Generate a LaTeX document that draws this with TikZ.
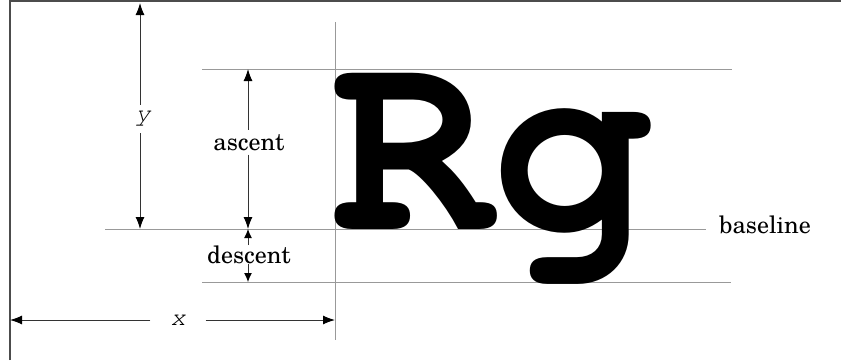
\documentclass[tikz,border=0pt]{standalone}
\usepackage{fontspec}
\usetikzlibrary{arrows.meta}
\newfontfamily\glyphfont{texgyrecursor-bold.otf}
\newfontfamily\axisfont{texgyrecursor-italic.otf}
\newfontfamily\labelfont{texgyreschola-regular.otf}
\begin{document}
\begin{tikzpicture}[x=1pt,y=-1pt,
  guide/.style={draw=black!40, line width=1pt},
  dim/.style={draw=black!80, line width=1pt, -{Latex[length=12pt,width=9pt,black]}},
  lbl/.style={font=\labelfont\fontsize{24}{28}\selectfont, fill=white, inner sep=0pt},
  axlbl/.style={font=\axisfont\fontsize{25}{28}\selectfont, fill=white, inner sep=0pt}]
\useasboundingbox (0,0) rectangle (841,360);
\fill[white] (0,0) rectangle (841,360);
% frame
\coordinate (fbl) at (10,360);
\coordinate (ftl) at (10,1);
\coordinate (ftr) at (841,1);
\draw[black!70, line width=2pt] (fbl) -- (ftl) -- (ftr);
% guide lines
\coordinate (vt) at (335,22);
\coordinate (vb) at (335,340);
\coordinate (tl) at (202,69);
\coordinate (tr) at (732,69);
\coordinate (bl) at (105,229);
\coordinate (br) at (706,229);
\coordinate (dl) at (202,282);
\coordinate (dr) at (731,282);
\draw[guide] (vt) -- (vb);
\draw[guide] (tl) -- (tr);
\draw[guide] (bl) -- (br);
\draw[guide] (dl) -- (dr);
% glyphs
\node[anchor=base west, inner sep=0pt, font=\glyphfont\fontsize{268}{268}\selectfont] (rg) at (331,229) {Rg};
% labels
\node[axlbl, minimum height=28pt, minimum width=20pt] (ylbl) at (143,119) {y};
\node[lbl, anchor=base, inner ysep=4pt] (asc) at (249,150) {ascent};
\node[lbl, anchor=base] (desc) at (249,263) {descent};
\node[axlbl, minimum width=55pt, minimum height=20pt] (xlbl) at (178,320) {x};
\node[lbl, fill=none, anchor=base west] (base) at (719,233) {baseline};
% arrow end points
\coordinate (ytop) at (140,3);
\coordinate (ybot) at (140,229);
\coordinate (atop) at (248,69);
\coordinate (abot) at (248,229);
\coordinate (dtop) at (248,229);
\coordinate (dbot) at (248,282);
\coordinate (xl) at (10,320);
\coordinate (xr) at (335,320);
\draw[dim] (ylbl.north -| ytop) -- (ytop);
\draw[dim] (ylbl.south -| ybot) -- (ybot);
\draw[dim] (asc.north -| atop) -- (atop);
\draw[dim] (asc.south -| abot) -- (abot);
\draw[dim, -{Latex[length=9pt,width=8pt,black]}] (desc.north -| dtop) -- (dtop);
\draw[dim, -{Latex[length=9pt,width=8pt,black]}] (desc.south -| dbot) -- (dbot);
\draw[dim] (xlbl.west) -- (xl);
\draw[dim] (xlbl.east) -- (xr);
\end{tikzpicture}
\end{document}
